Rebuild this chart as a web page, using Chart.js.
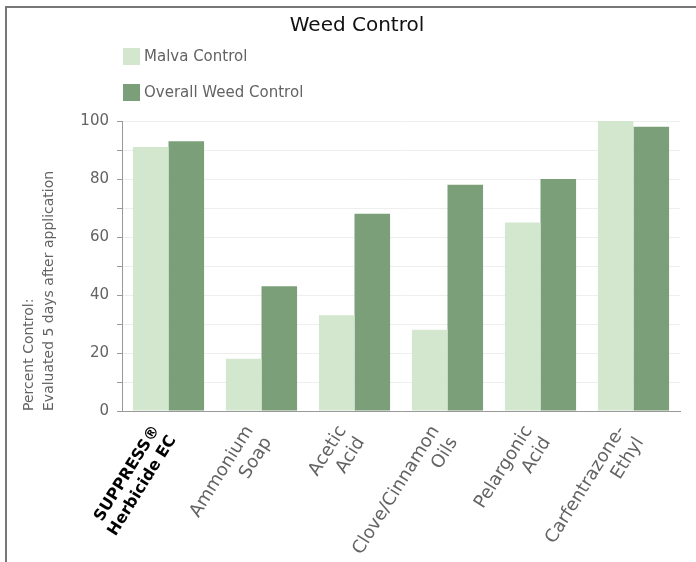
<!DOCTYPE html>
<html>
<head>
<meta charset="utf-8">
<script src="https://cdn.jsdelivr.net/npm/chart.js@4"></script>
<style>
  html, body { margin: 0; padding: 0; background: #fff; }
  #wrap { position: relative; width: 696px; height: 562px; overflow: hidden; }
  #frame { position: absolute; left: 5px; top: 6px; right: -4px; bottom: -4px; border-left: 2px solid #777; border-top: 2px solid #777; pointer-events: none; }
  canvas { position: absolute; left: 0; top: 0; }
</style>
</head>
<body>
<div id="wrap">
  <canvas id="c" width="696" height="562"></canvas>
  <div id="frame"></div>
</div>
<script>
const categories = [
  ["SUPPRESS®", "Herbicide EC"],
  ["Ammonium", "Soap"],
  ["Acetic", "Acid"],
  ["Clove/Cinnamon", "Oils"],
  ["Pelargonic", "Acid"],
  ["Carfentrazone-", "Ethyl"]
];
const malvaControl = [91, 18, 33, 28, 65, 100];
const overallWeedControl = [93, 43, 68, 78, 80, 98];
const seriesNames = ["Malva Control", "Overall Weed Control"];
const yTickValues = [0, 20, 40, 60, 80, 100];
const chartTitle = "Weed Control";
const yTitle = ["Percent Control:", "Evaluated 5 days after application"];

const FONT = "'DejaVu Sans', sans-serif";
const LIGHT = "#d3e7cf";
const DARK = "#7b9f79";
const TEXT = "#636363";

const headerPlugin = {
  id: 'header',
  afterDraw(chart) {
    const ctx = chart.ctx;
    ctx.save();
    ctx.fillStyle = '#111';
    ctx.font = '20px ' + FONT;
    ctx.textAlign = 'center';
    ctx.textBaseline = 'middle';
    ctx.fillText(chartTitle, 357, 26);
    chart.data.datasets.forEach((ds, i) => {
      const y = 56 + i * 36;
      ctx.fillStyle = ds.backgroundColor;
      ctx.fillRect(123, y - 8, 17, 17);
      ctx.fillStyle = TEXT;
      ctx.font = '15px ' + FONT;
      ctx.textBaseline = 'middle';
      ctx.textAlign = 'left';
      ctx.fillText(ds.label, 144, y + 1);
    });
    ctx.restore();
  }
};

new Chart(document.getElementById('c'), {
  type: 'bar',
  data: {
    labels: categories,
    datasets: [
      { label: seriesNames[0], data: malvaControl, backgroundColor: LIGHT },
      { label: seriesNames[1], data: overallWeedControl, backgroundColor: DARK }
    ]
  },
  options: {
    responsive: false,
    animation: false,
    devicePixelRatio: 1,
    layout: { padding: { left: 0, right: 16, top: 121, bottom: 0 } },
    datasets: { bar: { categoryPercentage: 0.765, barPercentage: 1.0 } },
    plugins: {
      legend: { display: false },
      tooltip: { enabled: false },
      title: { display: false }
    },
    scales: {
      x: {
        grid: { display: false, drawTicks: false },
        border: { display: true, color: '#999', width: 1 },
        ticks: {
          autoSkip: false,
          maxRotation: 58,
          minRotation: 58,
          padding: 11,
          labelOffset: -12,
          color: (c) => c.index === 0 ? '#000' : TEXT,
          font: (c) => ({ family: FONT, size: c.index === 0 ? 16 : 18, weight: c.index === 0 ? 'bold' : 'normal', lineHeight: 1.2 })
        },
        afterFit: (s) => { s.height = 151; }
      },
      y: {
        min: 0,
        max: 100,
        grid: { color: '#eeeeee', tickColor: '#999', tickLength: 5, drawTicks: true },
        border: { display: true, color: '#999', width: 1 },
        ticks: {
          stepSize: 10,
          padding: 8,
          color: TEXT,
          font: { family: FONT, size: 15, weight: 'normal' },
          callback: (v) => yTickValues.includes(v) ? String(v) : ''
        },
        title: {
          display: true,
          text: yTitle,
          align: 'start',
          color: TEXT,
          font: { family: FONT, size: 14, weight: 'normal', lineHeight: 1.4 },
          padding: { top: 20, bottom: 0 }
        },
        afterFit: (s) => { s.width = 122; }
      }
    }
  },
  plugins: [headerPlugin]
});
</script>
</body>
</html>
